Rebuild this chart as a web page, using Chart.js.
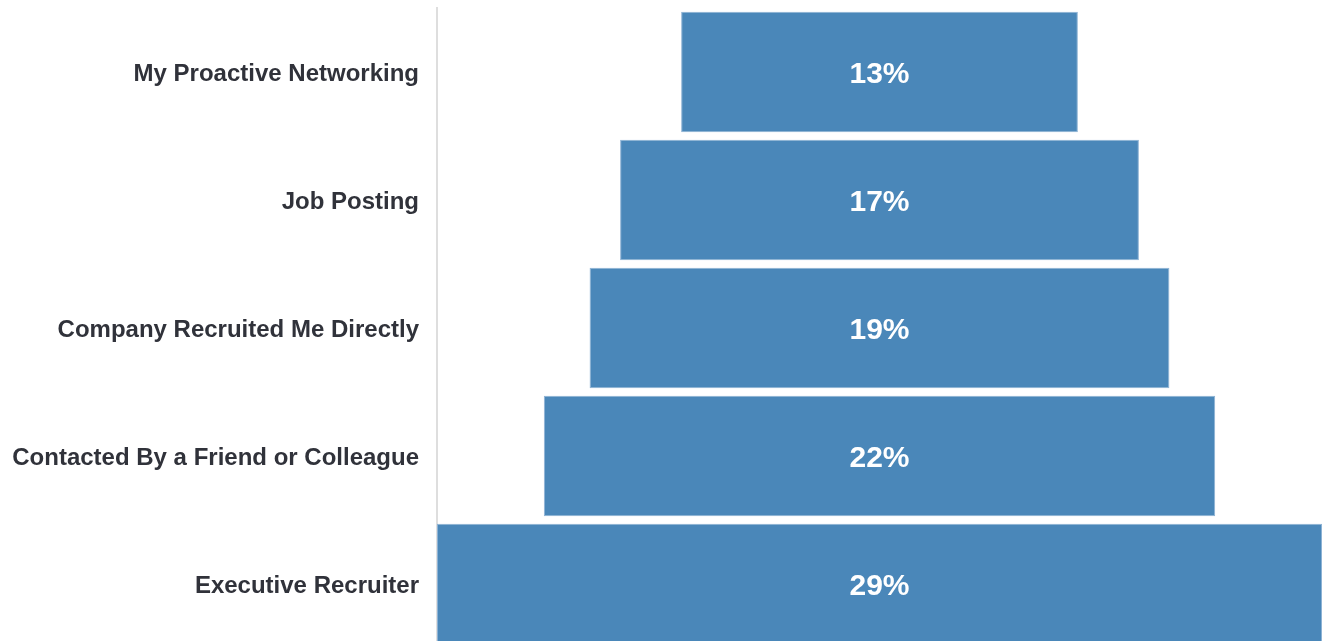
<!DOCTYPE html>
<html>
<head>
<meta charset="utf-8">
<script src="https://cdn.jsdelivr.net/npm/chart.js@4/dist/chart.umd.min.js"></script>
<style>
  html, body { margin: 0; padding: 0; background: #fff; overflow: hidden; }
  #wrap { position: relative; width: 1325px; height: 648px; }
</style>
</head>
<body>
<div id="wrap"><canvas id="funnel"></canvas></div>
<script>
// funnel stages, top to bottom
const stages = [
  "My Proactive Networking",
  "Job Posting",
  "Company Recruited Me Directly",
  "Contacted By a Friend or Colleague",
  "Executive Recruiter"
];
const shares = [13, 17, 19, 22, 29];

const barColor = "#4a87b9";
const barEdge = "#8db2d4";
const maxShare = Math.max(...shares);

// write the share in the middle of each bar
const valueLabels = {
  id: "valueLabels",
  afterDatasetsDraw(chart) {
    const { ctx } = chart;
    const meta = chart.getDatasetMeta(0);
    ctx.save();
    ctx.fillStyle = "#ffffff";
    ctx.font = "bold 30px 'Liberation Sans', Arial, sans-serif";
    ctx.textAlign = "center";
    ctx.textBaseline = "middle";
    meta.data.forEach((bar, i) => {
      const cx = (bar.x + bar.base) / 2;
      ctx.fillText(shares[i] + "%", cx, bar.y + 3);
    });
    ctx.restore();
  }
};

new Chart(document.getElementById("funnel"), {
  type: "bar",
  data: {
    labels: stages,
    datasets: [{
      data: shares.map(v => [-v / 2, v / 2]),
      backgroundColor: barColor,
      borderColor: barEdge,
      borderWidth: 1,
      borderSkipped: false,
      barPercentage: 0.94,
      categoryPercentage: 1
    }]
  },
  options: {
    indexAxis: "y",
    responsive: true,
    maintainAspectRatio: false,
    animation: false,
    layout: { padding: { top: 8, right: 3, bottom: 0, left: 0 } },
    plugins: {
      legend: { display: false },
      tooltip: { enabled: false }
    },
    scales: {
      x: {
        display: false,
        min: -maxShare / 2,
        max: maxShare / 2
      },
      y: {
        grid: { display: false, drawTicks: false },
        border: { display: true, color: "#dedede", width: 2 },
        ticks: {
          color: "#30323a",
          padding: 18,
          labelOffset: 2,
          font: { family: "'Liberation Sans', Arial, sans-serif", size: 24, weight: "bold" }
        },
        afterFit(scale) {
          scale.width = 437;
          scale.paddingTop = 0;
          scale.paddingBottom = 0;
        }
      }
    }
  },
  plugins: [valueLabels]
});
</script>
</body>
</html>
